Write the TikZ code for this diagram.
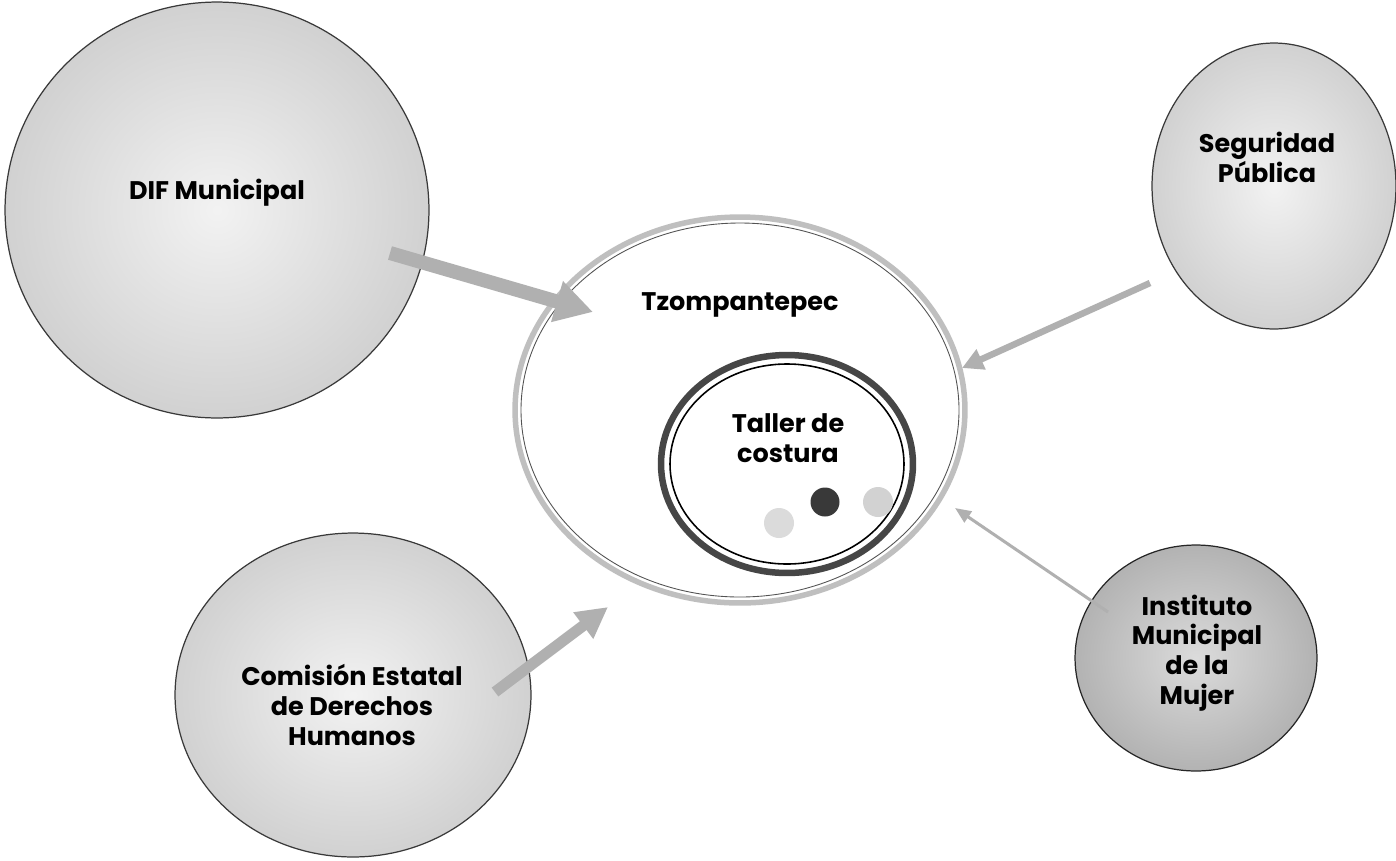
\documentclass[tikz,border=0pt]{standalone}
\usepackage{fontspec}
\setmainfont{Poppins}
\usetikzlibrary{shapes.geometric,arrows.meta}
\tikzset{
  bigcirc/.style={ellipse, inner sep=0pt, draw=gray!45!black, line width=0.7pt, shading=radial, inner color=gray!10, outer color=gray!36},
  darkcirc/.style={ellipse, inner sep=0pt, draw=gray!30!black, line width=0.7pt, shading=radial, inner color=gray!28, outer color=gray!60},
  lbl/.style={align=center, font=\bfseries\fontsize{14.5}{17}\selectfont, text=black},
  conn/.style={draw=gray!62, color=gray!62},
  dot/.style={circle, inner sep=0pt, minimum size=0.58cm}
}
\begin{document}
\begin{tikzpicture}[x=0.02cm,y=-0.02cm]
\useasboundingbox[fill=white] (0,0) rectangle (1396,860);
% outer circles
\node[bigcirc, minimum width=8.48cm, minimum height=8.32cm] (dif) at (217,210) {};
\node[bigcirc, minimum width=4.88cm, minimum height=5.72cm] (seg) at (1274,186) {};
\node[bigcirc, minimum width=7.12cm, minimum height=6.48cm] (com) at (353,695) {};
\node[darkcirc, minimum width=4.84cm, minimum height=4.52cm] (inst) at (1196,658) {};
% Tzompantepec ring
\node[ellipse, inner sep=0pt, draw=gray!50, line width=0.11cm, minimum width=9.0cm, minimum height=7.72cm] (tz) at (740,410) {};
\draw[gray!65!black, line width=0.5pt] (tz.center) ellipse [x radius=219, y radius=187];
% Taller ring
\node[ellipse, inner sep=0pt, draw=gray!55!black, line width=0.13cm, minimum width=5.04cm, minimum height=4.36cm] (tal) at (787,464) {};
\draw[black, line width=0.9pt] (tal.center) ellipse [x radius=117, y radius=100];
% dots
\node[dot, fill=gray!45!black] (d1) at (825,502) {};
\node[dot, fill=gray!35, minimum size=0.6cm] (d2) at (878,502) {};
\node[dot, fill=gray!28, minimum size=0.6cm] (d3) at (779,523) {};
% labels
\node[lbl] (difl) at (217,193) {DIF Municipal};
\node[lbl] (segl) at (1267,157) {Seguridad\\Pública};
\node[lbl] (coml) at (352,705) {Comisión Estatal\\de Derechos\\Humanos};
\node[lbl] (instl) at (1197,653) {Instituto\\Municipal\\de la\\Mujer};
\node[lbl] (tzl) at (740,305) {Tzompantepec};
\node[lbl] (tall) at (788,438) {Taller de\\costura};
% connector ends
\coordinate (a1s) at (390,253);
\coordinate (a1e) at (593,312);
\coordinate (a2s) at (1150,283);
\coordinate (a2e) at (962,368);
\coordinate (a3s) at (1108,612);
\coordinate (a3e) at (955,508);
\coordinate (a4s) at (495,692);
\coordinate (a4e) at (608,607);
% connectors
\draw[conn, line width=0.28cm, -{Triangle[width=0.8cm,length=0.75cm]}] (a1s) -- (a1e);
\draw[conn, line width=0.13cm, -{Triangle[width=0.42cm,length=0.42cm]}] (a2s) -- (a2e);
\draw[conn, line width=0.06cm, -{Triangle[width=0.26cm,length=0.32cm]}] (a3s) -- (a3e);
\draw[conn, line width=0.22cm, -{Triangle[width=0.62cm,length=0.62cm]}] (a4s) -- (a4e);
\end{tikzpicture}
\end{document}
